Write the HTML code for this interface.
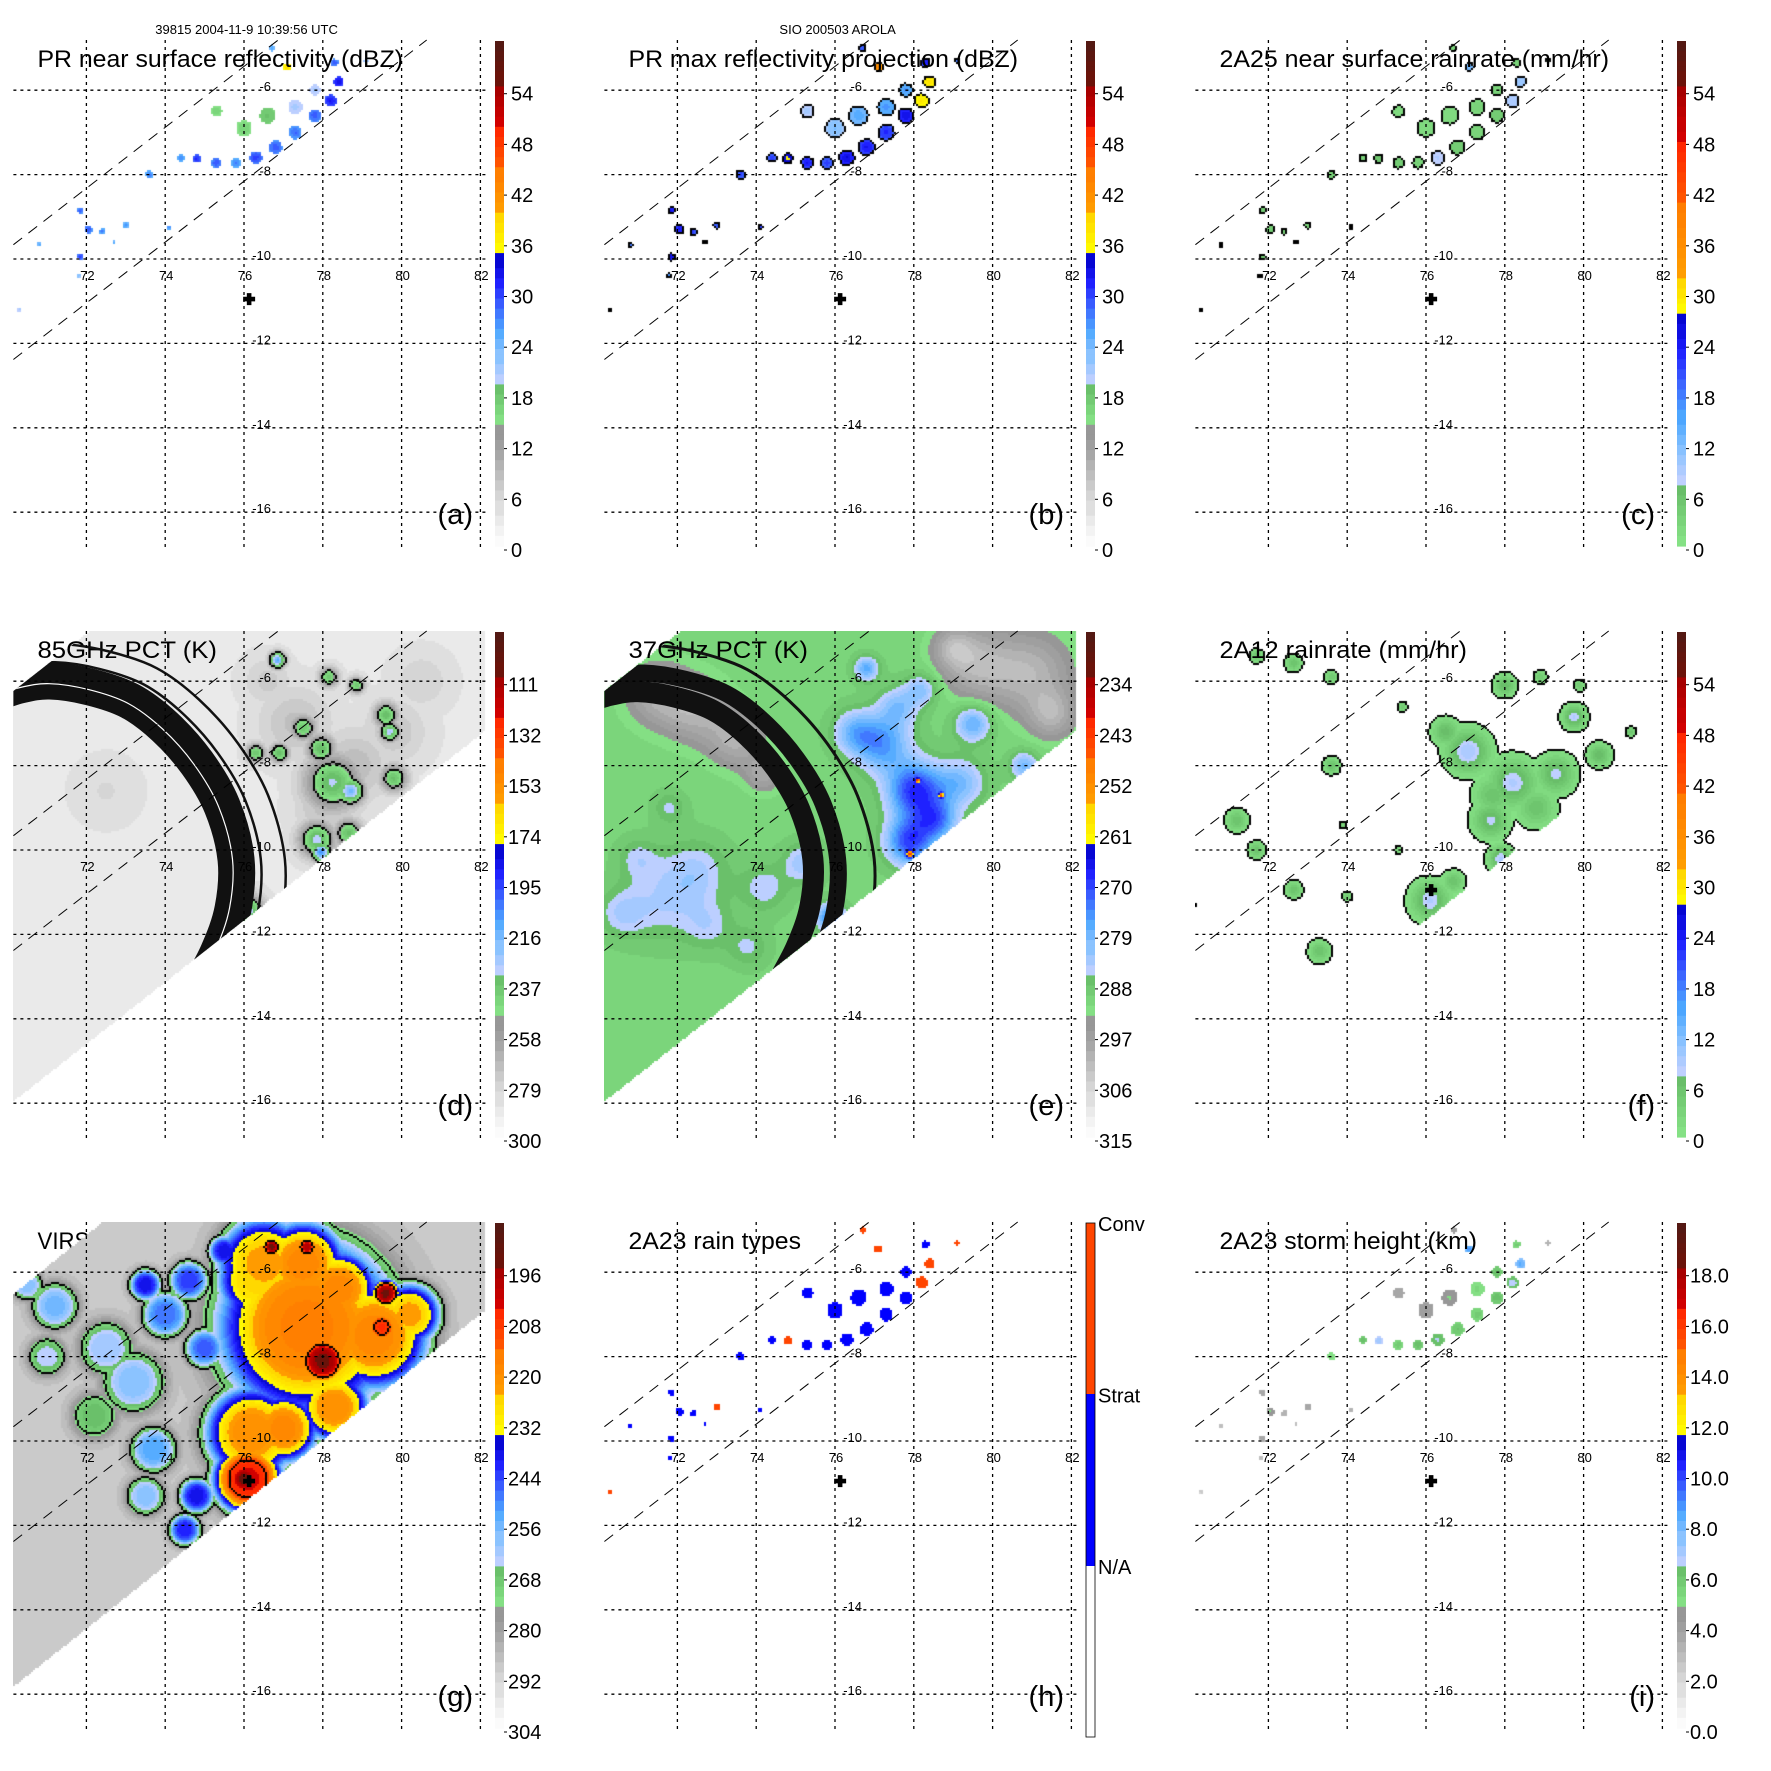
<!DOCTYPE html>
<html><head><meta charset="utf-8">
<style>
html,body{margin:0;padding:0;background:#fff;}
#root{position:relative;width:1771px;height:1771px;overflow:hidden;background:#fff;font-family:"Liberation Sans",Arial,sans-serif;}
.panel{position:absolute;width:591px;height:591px;}
.panel canvas{position:absolute;left:13px;top:40px;}
.panel svg{position:absolute;left:0;top:0;}
</style></head>
<body>
<div id="root"></div>
<script>
// ---------------- DATA ----------------
const prLon=[74.4,74.8,75.3,75.8,76.3,76.8,77.3,77.8,78.2,78.4,78.3,76.0,76.6,77.3,75.3,77.8,77.1,76.7,79.1,73.6,71.85,72.05,72.4,73.0,71.85,70.8,74.1,71.8,70.3,72.7];
const prLat=[-7.6,-7.62,-7.72,-7.72,-7.6,-7.35,-7.0,-6.6,-6.25,-5.8,-5.35,-6.9,-6.6,-6.4,-6.5,-6.0,-5.45,-5.0,-5.3,-8.0,-8.85,-9.3,-9.35,-9.2,-9.95,-9.66,-9.25,-10.4,-11.2,-9.6];
const prRad=[0.1,0.11,0.13,0.13,0.16,0.17,0.17,0.16,0.15,0.13,0.1,0.2,0.2,0.18,0.14,0.14,0.1,0.08,0.06,0.1,0.08,0.1,0.08,0.08,0.08,0.06,0.06,0.06,0.05,0.05];
const aDbz=[28,32,30,28,31,30,29,30,33,34,30,17,19,22,17,22,40,26,24,28,30,30,28,27,31,26,28,24,22,26];
const bDbz=[31,36,33,31,34,33,32,34,38,39,33,24,26,27,22,27,44,30,28,31,33,33,31,30,34,29,31,27,25,29];
const cRain=[4,6,5,4,9,5,4,5,10,11,4,2,2,3,2,3,14,3,2,4,5,5,4,3,5,3,4,2,2,3];
const hType=[1,2,1,1,1,1,1,1,2,2,1,1,1,1,1,1,2,2,2,1,1,1,1,2,1,1,1,1,2,1];
const iHgt=[6.5,7.5,6,6.5,6.8,6.2,6,6.5,7,8.5,6,4.5,5,5.5,4,6.5,9,4.5,3.5,5.5,4,5,3.5,4,4,3,3.5,3,2.5,3];
const dLon=[77.3,78.8,79.8,76.6,78.0,80.5,72.5,78.25,78.7,77.85,77.95,78.65,77.95,77.5,76.3,79.6,79.7,79.8,78.85,78.15,76.85,76.1,76.9];
const dLat=[-7.0,-8.0,-7.2,-6.0,-9.0,-6.0,-8.6,-8.4,-8.6,-9.75,-10.05,-9.6,-7.6,-7.1,-7.7,-6.8,-7.2,-8.3,-6.1,-5.9,-5.5,-11.45,-7.7];
const dRad=[0.9,0.9,0.8,0.6,0.7,0.7,0.8,0.7,0.35,0.45,0.25,0.35,0.35,0.32,0.24,0.3,0.25,0.33,0.2,0.24,0.2,0.4,0.24];
const dDep=[16,18,14,12,16,10,6,56,70,58,80,52,54,50,50,54,60,52,50,50,75,60,54];
const eLon=[71.5,72.5,73.5,74.2,79.6,81.0,81.5,79.0,78.05,77.9,77.2,76.5,79.5,76.8,78.6,80.8,79.2,77.6,78.2,75.9,71.7,72.5,74.2,75.2,70.6,71.8,73.8,77.9,78.7,78.1,72.8,71.0];
const eLat=[-6.3,-6.7,-7.4,-8.2,-5.6,-5.8,-6.8,-5.2,-8.6,-9.8,-7.5,-7.2,-7.0,-5.7,-9.3,-8.0,-8.4,-6.6,-6.2,-11.6,-11.2,-10.5,-10.9,-10.3,-11.5,-9.0,-12.3,-10.1,-8.7,-8.35,-11.8,-10.2];
const eRad=[0.8,0.8,0.7,0.45,0.9,1.0,0.6,0.5,0.7,0.6,0.7,0.55,0.45,0.3,0.5,0.35,0.6,0.5,0.4,0.35,1.0,0.8,0.6,0.5,0.6,0.4,0.5,0.08,0.06,0.05,0.6,0.5];
const eDel=[9,9,9,8,10,10,9,8,-22,-20,-14,-10,-13,-13,-14,-11,-10,-9,-9,-18,-6,-6,-6,-8,-6,-5,-5,-35,-33,-33,-5,-5];
const fLon=[77.07,78.2,79.3,79.76,78.0,77.64,76.5,80.4,81.2,76.1,76.7,72.64,71.7,73.6,71.2,71.7,72.64,73.3,73.6,75.4,73.9,75.3,74.0,70.1,78.9,79.9,77.7,78.8,76.3,77.9];
const fLat=[-7.66,-8.4,-8.2,-6.85,-6.1,-9.3,-7.2,-7.75,-7.2,-11.2,-10.75,-5.57,-5.4,-5.9,-9.3,-10.0,-10.94,-12.4,-8.0,-6.6,-9.4,-10.0,-11.1,-11.3,-5.9,-6.1,-8.7,-9.0,-11.6,-10.2];
const fRad=[0.5,0.55,0.45,0.28,0.26,0.42,0.32,0.28,0.12,0.45,0.26,0.2,0.16,0.16,0.26,0.2,0.2,0.26,0.2,0.12,0.1,0.1,0.12,0.08,0.16,0.14,0.45,0.45,0.35,0.3];
const fPeak=[10,9,8,9,7,8,7,7,6,9,6,6,6,5,6,6,6,6,6,5,4,4,5,4,5,5,6,6,6,9];
const gLon=[77.6,76.1,78.0,77.0,78.4,76.3,79.6,76.7,77.6,79.5,75.5,74.6,73.5,74.0,75.0,73.2,72.5,71.2,71.0,72.2,73.7,74.8,74.5,73.5,70.5,79.3,80.2,76.2,76.5,77.5,76.0,78.3];
const gLat=[-7.3,-10.9,-8.1,-9.7,-6.4,-6.2,-6.5,-5.4,-5.4,-7.3,-5.5,-6.2,-6.3,-7.0,-7.8,-8.6,-7.8,-6.8,-8.0,-9.4,-10.2,-11.3,-12.1,-11.3,-6.3,-7.5,-7.0,-9.8,-5.8,-5.8,-10.9,-9.2];
const gRad=[2.3,0.9,0.6,0.9,1.0,1.0,0.35,0.22,0.22,0.4,0.4,0.5,0.4,0.6,0.5,0.8,0.7,0.6,0.5,0.6,0.6,0.45,0.4,0.5,0.4,1.4,0.8,1.2,1.2,1.1,0.4,0.9];
const gDep=[72,85,95,70,70,62,95,95,90,82,50,45,50,40,42,30,28,32,25,22,35,50,48,30,30,70,65,68,65,70,95,68];
const ticksA=['0','6','12','18','24','30','36','42','48','54'];
const ticksD=['300','279','258','237','216','195','174','153','132','111'];
const ticksE=['315','306','297','288','279','270','261','252','243','234'];
const ticksG=['304','292','280','268','256','244','232','220','208','196'];
const ticksI=['0.0','2.0','4.0','6.0','8.0','10.0','12.0','14.0','16.0','18.0'];
const lonTicks=[72,74,76,78,80,82];
const latTicks=[-6,-8,-10,-12,-14,-16];

// ---------------- GEOMETRY ----------------
const X=lon=>86.4+(lon-72)*39.4;
const Y=lat=>90.2+(-6-lat)*42.2;
const LON=x=>72+(x-86.4)/39.4;
const LAT=y=>-6-(y-90.2)/42.2;
const SW=[[13.4,100],[90,40],[485.7,40],[485.7,139.6],[13.4,510.5]];
const SWG=[[13.4,112],[103,40],[485.7,40],[485.7,128],[13.4,505]];
const ARC=[[-10,104],[20,94],[50,90],[90,96],[130,110],[165,136],[197,172],[222,215],[236,268],[233,318],[218,362],[195,405]];
function inPoly(p,x,y){let c=false;for(let i=0,j=p.length-1;i<p.length;j=i++){const xi=p[i][0],yi=p[i][1],xj=p[j][0],yj=p[j][1];if(((yi>y)!=(yj>y))&&(x<(xj-xi)*(y-yi)/(yj-yi)+xi))c=!c;}return c;}
function crPath(pts){let d=`M${pts[0][0]},${pts[0][1]}`;for(let i=0;i<pts.length-1;i++){const p0=pts[Math.max(0,i-1)],p1=pts[i],p2=pts[i+1],p3=pts[Math.min(pts.length-1,i+2)];d+=` C${p1[0]+(p2[0]-p0[0])/6},${p1[1]+(p2[1]-p0[1])/6} ${p2[0]-(p3[0]-p1[0])/6},${p2[1]-(p3[1]-p1[1])/6} ${p2[0]},${p2[1]}`;}return d;}

// ---------------- COLORMAPS ----------------
const CMA=[[0,.236,['#ffffff','#ededed','#d6d6d6','#bdbdbd','#a4a4a4','#939393']],[.236,.322,['#88e488','#66bb66']],[.322,.575,['#c8d2ff','#8ec4ff','#4ea8ff','#3c64ff','#1e1eff','#0000c8']],[.575,.66,['#ffff00','#ffd200']],[.66,.745,['#ffa000','#ff7a00']],[.745,.83,['#ff5a00','#ff2200']],[.83,.914,['#d80000','#a00000']],[.914,1.001,['#6e1208','#501a14']]];
const CMC=[[0,.117,['#88e488','#66bb66']],[.117,.457,['#c8d2ff','#8ec4ff','#4ea8ff','#3c64ff','#1e1eff','#0000c8']],[.457,.53,['#ffff00','#ffd200']],[.53,.676,['#ffa000','#ff7a00']],[.676,.80,['#ff5a00','#ff2200']],[.80,.914,['#d80000','#a00000']],[.914,1.001,['#6e1208','#501a14']]];
function hex(h){return [parseInt(h.substr(1,2),16),parseInt(h.substr(3,2),16),parseInt(h.substr(5,2),16)];}
function cmapColor(cm,f){f=Math.max(0,Math.min(0.9999,f));for(const s of cm){if(f>=s[0]&&f<s[1]){const cs=s[2];let t=(f-s[0])/(s[1]-s[0]);const n=Math.max(2,Math.round((s[1]-s[0])*48));t=(Math.floor(t*n)+0.5)/n;const k=t*(cs.length-1);const i=Math.min(cs.length-2,Math.floor(k));const u=k-i;const a=hex(cs[i]),b=hex(cs[i+1]);return [a[0]+(b[0]-a[0])*u,a[1]+(b[1]-a[1])*u,a[2]+(b[2]-a[2])*u];}}return [255,255,255];}
const valFrac=(v,v0,dv)=>(546-(550-(v-v0)/dv*50.7))/505.3;

// ---------------- FIELDS ----------------
function sparse(vals,scale){return (lon,lat)=>{let best=0;for(let i=0;i<prLon.length;i++){const dx=(lon-prLon[i])*39.4,dy=(lat-prLat[i])*42.2,r=prRad[i]*40*scale,d2=dx*dx+dy*dy;if(d2<r*r){const v=vals[i]*(0.9+0.1*(1-Math.sqrt(d2)/r));if(v>best)best=v;}}return best;};}
function gmax(lo,la,ra,am,lon,lat,pw){pw=pw||1;let m=0;for(let i=0;i<lo.length;i++){const dx=(lon-lo[i])*39.4,dy=(lat-la[i])*42.2,r=ra[i]*40;const q=(dx*dx+dy*dy)/(r*r);const g=am[i]*Math.exp(-(pw===1?q:q*q));if(g>m)m=g;}return m;}
function gsum(lo,la,ra,am,lon,lat){let m=0;for(let i=0;i<lo.length;i++){const dx=(lon-lo[i])*39.4,dy=(lat-la[i])*42.2,r=ra[i]*40;m+=am[i]*Math.exp(-(dx*dx+dy*dy)/(r*r));}return m;}

const panels=[
 {id:'a',col:0,row:0,title:'PR near surface reflectivity (dBZ)',tEnd:403,ticks:ticksA,v0:0,dv:6,cm:CMA,field:sparse(aDbz,1),minShow:0.5,contours:[],header:'39815 2004-11-9 10:39:56 UTC',cross:true},
 {id:'b',col:1,row:0,title:'PR max reflectivity projection (dBZ)',tEnd:427,ticks:ticksA,v0:0,dv:6,cm:CMA,field:sparse(bDbz,1.3),minShow:0.5,contours:[0.5],header:'SIO 200503 AROLA',cross:true},
 {id:'c',col:2,row:0,title:'2A25 near surface rainrate (mm/hr)',tEnd:427,ticks:ticksA,v0:0,dv:6,cm:CMC,field:sparse(cRain,1.2),minShow:0.5,contours:[0.5],cross:true},
 {id:'d',col:0,row:1,title:'85GHz PCT (K)',tEnd:217,ticks:ticksD,v0:300,dv:-21,cm:CMA,clip:SW,field:(lo,la)=>286-gmax(dLon,dLat,dRad,dDep,lo,la),contours:[250],arcs:[[1,37,'#111'],[0.985,1.2,'#fff'],[1.105,2.5,'#111'],[1.207,2.5,'#111']]},
 {id:'e',col:1,row:1,title:'37GHz PCT (K)',tEnd:217,ticks:ticksE,v0:315,dv:-9,cm:CMA,clip:SW,field:(lo,la)=>290+gsum(eLon,eLat,eRad,eDel,lo,la),contours:[],arcs:[[0.94,21,'#111'],[1.045,17,'#111'],[1.2,3,'#111']]},
 {id:'f',col:2,row:1,title:'2A12 rainrate (mm/hr)',tEnd:285,ticks:ticksA,v0:0,dv:6,cm:CMC,clip:SW,field:(lo,la)=>gmax(fLon,fLat,fRad,fPeak,lo,la),minShow:1,contours:[1],cross:true},
 {id:'g',col:0,row:2,title:'VIRS Tb11 (K)',tEnd:180,ticks:ticksG,v0:304,dv:-12,cm:CMA,clip:SWG,field:(lo,la)=>288-gmax(gLon,gLat,gRad,gDep,lo,la,2),contours:[271,208],cross:true,titleUnder:true},
 {id:'h',col:1,row:2,title:'2A23 rain types',tEnd:210,rain:true,field:sparse(hType,1),minShow:0.5,contours:[],cross:true},
 {id:'i',col:2,row:2,title:'2A23 storm height (km)',tEnd:295,ticks:ticksI,v0:0,dv:2,cm:CMA,field:sparse(iHgt,1),minShow:0.5,contours:[],cross:true}
];

// ---------------- RENDER ----------------
const NS='http://www.w3.org/2000/svg';
const root=document.getElementById('root');
function mk(tag,attrs,parent){const e=document.createElementNS(NS,tag);for(const k in attrs)e.setAttribute(k,attrs[k]);parent.appendChild(e);return e;}

function raster(p,canvas){
 const W=473,H=508,C=2,ox=13,oy=40,nx=Math.ceil(W/C),ny=Math.ceil(H/C);
 const vals=new Array(nx*ny);
 for(let j=0;j<ny;j++)for(let i=0;i<nx;i++){const lx=ox+i*C+1,ly=oy+j*C+1;if(p.clip&&!inPoly(p.clip,lx,ly)){vals[j*nx+i]=null;continue;}vals[j*nx+i]=p.field(LON(lx),LAT(ly));}
 const ctx=canvas.getContext('2d');const img=ctx.createImageData(W,H);
 function put(i,j,c){for(let y=j*C;y<Math.min(H,j*C+C);y++)for(let x=i*C;x<Math.min(W,i*C+C);x++){const o=(y*W+x)*4;img.data[o]=c[0];img.data[o+1]=c[1];img.data[o+2]=c[2];img.data[o+3]=255;}}
 for(let j=0;j<ny;j++)for(let i=0;i<nx;i++){const v=vals[j*nx+i];if(v===null)continue;if(p.minShow!==undefined&&v<p.minShow)continue;let c;
  if(p.rain){c=v>1.5?[255,69,0]:[0,0,255];}else c=cmapColor(p.cm,valFrac(v,p.v0,p.dv));put(i,j,c);}
 for(const L of p.contours){for(let j=0;j<ny;j++)for(let i=0;i<nx;i++){const v=vals[j*nx+i];if(v===null)continue;const nb=[[i+1,j],[i,j+1]];for(const q of nb){if(q[0]>=nx||q[1]>=ny)continue;const w=vals[q[1]*nx+q[0]];if(w===null)continue;if((v<L)!=(w<L)){put(v<L?q[0]:i,v<L?q[1]:j,[0,0,0]);}}}}
 ctx.putImageData(img,0,0);
}

for(const p of panels){
 const div=document.createElement('div');div.className='panel';div.style.left=(p.col*591)+'px';div.style.top=(p.row*591)+'px';
 
 
 root.appendChild(div);
 const under=document.createElementNS(NS,'svg');under.setAttribute('width','591');under.setAttribute('height','591');div.appendChild(under);
 const canvas=document.createElement('canvas');canvas.width=473;canvas.height=508;
 
 
 div.appendChild(canvas);
 const svg=document.createElementNS(NS,'svg');svg.setAttribute('width','591');svg.setAttribute('height','591');div.appendChild(svg);
 raster(p,canvas);
 const tparent=p.titleUnder?under:svg;
 const tt=mk('text',{x:37.5,y:67,'font-size':24,textLength:(p.tEnd-37.5),lengthAdjust:'spacingAndGlyphs',fill:'#000'},tparent);tt.textContent=p.title;
 
 
 if(p.header){const h=mk('text',{x:246.6,y:34,'font-size':13,'text-anchor':'middle',fill:'#000'},svg);h.textContent=p.header;
  
  }
 if(p.arcs){const cp=mk('clipPath',{id:'cp'+p.id},svg);mk('polygon',{points:p.clip.map(q=>q.join(',')).join(' ')},cp);
  const g=mk('g',{'clip-path':'url(#cp'+p.id+')'},svg);
  
  
  const d=crPath(ARC);
  for(const a of p.arcs){mk('path',{d:d,fill:'none',stroke:a[2],'stroke-width':a[1],'vector-effect':'non-scaling-stroke',transform:`translate(0,268) scale(${a[0]}) translate(0,-268)`},g);}}
 const grid=mk('g',{stroke:'#000','stroke-width':1.3,'stroke-dasharray':'3,4'},svg);
 
 
 for(const lo of lonTicks)mk('line',{x1:X(lo),y1:40,x2:X(lo),y2:548},grid);
 for(const la of latTicks)mk('line',{x1:13.4,y1:Y(la),x2:485.7,y2:Y(la)},grid);
 const sw=mk('g',{stroke:'#000','stroke-width':1,'stroke-dasharray':'11,8'},svg);
 
 
 mk('line',{x1:13.4,y1:244.7,x2:278.2,y2:40},sw);
 mk('line',{x1:13.4,y1:359.5,x2:426.7,y2:40},sw);
 for(const lo of lonTicks){const t=mk('text',{x:X(lo)+1,y:280,'font-size':13,'text-anchor':'middle'},svg);t.textContent=lo;
  
  }
 for(const la of latTicks){const t=mk('text',{x:271,y:Y(la)+1,'font-size':13,'text-anchor':'end'},svg);t.textContent=la;
  
  }
 if(p.cross){const cx=X(76.13),cy=Y(-10.95);const c=mk('path',{d:`M${cx-6},${cy-2.3}h12v4.6h-12z M${cx-2.3},${cy-6}h4.6v12h-4.6z`,fill:'#000'},svg);
  
  }
 const lt=mk('text',{x:473,y:524,'font-size':29,'text-anchor':'end'},svg);lt.textContent='('+p.id+')';
 
 
 const cb=mk('g',{},svg);
 
 
 if(p.rain){
  mk('rect',{x:495,y:384,width:9,height:171,fill:'#fff'},cb);
  mk('rect',{x:495,y:212,width:9,height:172,fill:'#0000ff'},cb);
  mk('rect',{x:495,y:41,width:9,height:171,fill:'#ff4500'},cb);
  mk('rect',{x:495,y:41,width:9,height:514,fill:'none',stroke:'#000','stroke-width':0.8},cb);
  const labs=[['Conv',49],['Strat',220.6],['N/A',392]];
  for(const l of labs){const t=mk('text',{x:507,y:l[1],'font-size':20},cb);t.textContent=l[0];
   
   }
 } else {
  const n=100;for(let k=0;k<n;k++){const y0=41+k*505/n;const f=(546-(y0+505/n/2))/505.3;const c=cmapColor(p.cm,f);mk('rect',{x:495,y:y0,width:9,height:505/n+0.6,fill:`rgb(${c.map(Math.round).join(',')})`},cb);}
  p.ticks.forEach((s,k)=>{const y=550-k*50.7;mk('line',{x1:504,y1:y,x2:507,y2:y,stroke:'#000','stroke-width':1},cb);
   const t=mk('text',{x:s.length>2?508:511,y:y+7,'font-size':20},cb);t.textContent=s;
   
   });
 }
}
</script>
</body></html>
